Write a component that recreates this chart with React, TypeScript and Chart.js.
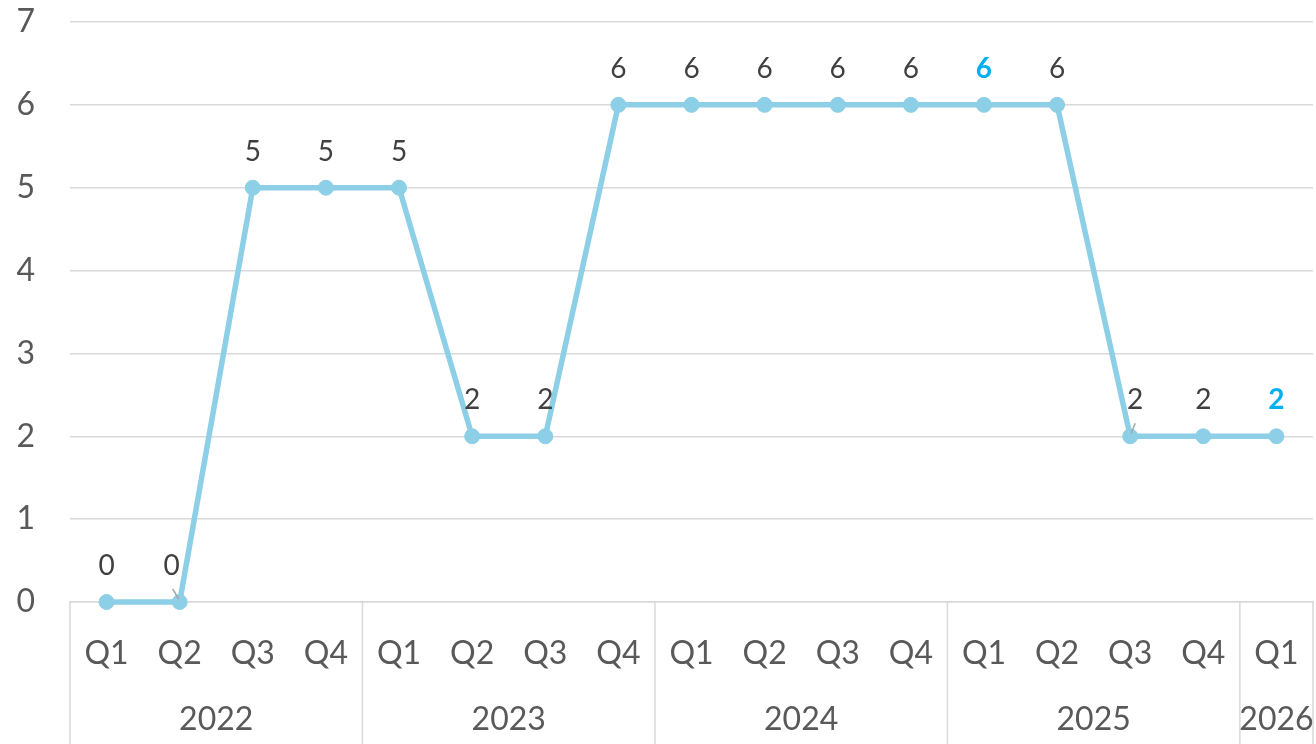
import React, { useEffect, useRef } from "react";
import { Chart, registerables } from "chart.js";

Chart.register(...registerables);

const quarters = ["Q1", "Q2", "Q3", "Q4", "Q1", "Q2", "Q3", "Q4", "Q1", "Q2", "Q3", "Q4", "Q1", "Q2", "Q3", "Q4", "Q1"];
const years = ["2022", "2023", "2024", "2025", "2026"];
const yearCounts = [4, 4, 4, 4, 1];
const values = [0, 0, 5, 5, 5, 2, 2, 6, 6, 6, 6, 6, 6, 6, 2, 2, 2];
const highlighted = [12, 16];
const yTicks = [0, 1, 2, 3, 4, 5, 6, 7];

const FONT = "Lato, 'Open Sans', sans-serif";
const LINE = "rgb(141,207,230)";
const GRID = "#d9d9d9";
const TEXT = "#595959";

export default function App() {
  const ref = useRef<HTMLCanvasElement | null>(null);

  useEffect(() => {
    if (!ref.current) return;

    const labelsPlugin = {
      id: "dataLabels",
      afterDatasetsDraw(chart: any) {
        const ctx = chart.ctx;
        const meta = chart.getDatasetMeta(0);
        ctx.save();
        meta.data.forEach((pt: any, i: number) => {
          const bold = highlighted.includes(i);
          let dx = 0;
          if (i === 1) dx = -8;
          if (i === 14) dx = 5;
          ctx.font = `${bold ? "bold " : ""}28px ${FONT}`;
          ctx.fillStyle = bold ? "#00b0f0" : "#404040";
          ctx.textAlign = "center";
          ctx.textBaseline = "middle";
          ctx.fillText(String(values[i]), pt.x + dx, pt.y - 36);
          if (i === 1 || i === 14) {
            ctx.strokeStyle = "#a6a6a6";
            ctx.lineWidth = 1.5;
            ctx.beginPath();
            if (i === 1) {
              ctx.moveTo(pt.x - 7, pt.y - 13);
              ctx.lineTo(pt.x - 1, pt.y - 3);
            } else {
              ctx.moveTo(pt.x + 5, pt.y - 13);
              ctx.lineTo(pt.x + 1, pt.y - 3);
            }
            ctx.stroke();
          }
        });
        ctx.restore();
      },
    };

    const axisPlugin = {
      id: "multiAxis",
      afterDraw(chart: any) {
        const ctx = chart.ctx;
        const xs = chart.scales.x;
        const area = chart.chartArea;
        const bottom = chart.height;
        ctx.save();
        ctx.strokeStyle = GRID;
        ctx.lineWidth = 1.5;
        const bounds: number[] = [area.left];
        let idx = 0;
        yearCounts.forEach((c, k) => {
          idx += c;
          if (k < yearCounts.length - 1) {
            bounds.push((xs.getPixelForValue(idx - 1) + xs.getPixelForValue(idx)) / 2);
          }
        });
        bounds.push(area.right);
        bounds.forEach((bx) => {
          ctx.beginPath();
          ctx.moveTo(bx, area.bottom);
          ctx.lineTo(bx, bottom);
          ctx.stroke();
        });
        ctx.font = `32px ${FONT}`;
        ctx.fillStyle = TEXT;
        ctx.textAlign = "center";
        ctx.textBaseline = "middle";
        years.forEach((y, k) => {
          ctx.fillText(y, (bounds[k] + bounds[k + 1]) / 2, 720);
        });
        ctx.restore();
      },
    };

    const chart = new Chart(ref.current, {
      type: "line",
      data: {
        labels: quarters,
        datasets: [
          {
            data: values,
            borderColor: LINE,
            backgroundColor: LINE,
            borderWidth: 5.5,
            pointRadius: 7.5,
            pointBackgroundColor: LINE,
            pointBorderColor: LINE,
            pointBorderWidth: 1,
            tension: 0,
            clip: false,
          },
        ],
      },
      options: {
        responsive: false,
        animation: false,
        layout: { autoPadding: false, padding: { top: 22, right: 3, bottom: 0, left: 0 } },
        plugins: { legend: { display: false }, tooltip: { enabled: false } },
        scales: {
          x: {
            offset: true,
            grid: { display: false, drawTicks: false },
            border: { display: true, color: GRID, width: 1.5 },
            ticks: {
              autoSkip: false,
              maxRotation: 0,
              padding: 32,
              color: TEXT,
              font: { family: FONT, size: 32 },
            },
            afterFit(scale: any) {
              scale.height = 142;
              scale.paddingLeft = 0;
              scale.paddingRight = 0;
            },
          },
          y: {
            min: 0,
            max: 7,
            afterBuildTicks(scale: any) {
              scale.ticks = yTicks.map((v) => ({ value: v }));
            },
            grid: { color: GRID, lineWidth: 1.5, drawTicks: false },
            border: { display: false },
            ticks: {
              padding: 35,
              color: TEXT,
              font: { family: FONT, size: 32 },
            },
            afterFit(scale: any) {
              scale.width = 70;
              scale.paddingTop = 0;
              scale.paddingBottom = 0;
            },
          },
        },
      },
      plugins: [labelsPlugin, axisPlugin],
    });

    return () => chart.destroy();
  }, []);

  return (
    <div style={{ position: "fixed", left: 0, top: 0, width: 1316, height: 744 }}>
      <canvas ref={ref} width={1316} height={744} />
    </div>
  );
}
